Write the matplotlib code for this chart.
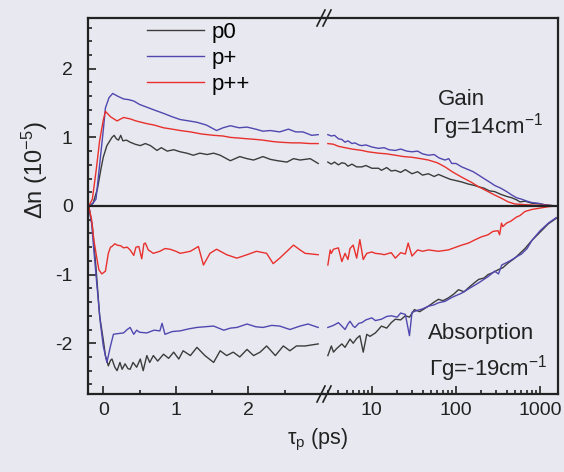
import numpy as np
import matplotlib
matplotlib.use("Agg")
import matplotlib.pyplot as plt
from matplotlib.lines import Line2D
from matplotlib.ticker import MultipleLocator, LogLocator, NullFormatter, FixedLocator, FixedFormatter

plt.rcParams["font.family"] = ["Liberation Sans", "DejaVu Sans"]
plt.rcParams["mathtext.fontset"] = "custom"
plt.rcParams["mathtext.rm"] = "Liberation Sans"
plt.rcParams["mathtext.it"] = "Liberation Sans:italic"
plt.rcParams["axes.unicode_minus"] = False

# ---- pump-probe traces, delay in ps; early part (linear) and late part (log) ----
# p0
p0_gain_t1 = [-0.2, -0.14, -0.08, -0.03, 0.0, 0.05, 0.12, 0.15, 0.18, 0.21, 0.24, 0.27, 0.32, 0.37, 0.44,
              0.51, 0.58, 0.65, 0.74, 0.8, 0.88, 0.97, 1.06, 1.15, 1.24, 1.33, 1.43, 1.52, 1.61, 1.68,
              1.75, 1.88, 1.98, 2.07, 2.2, 2.3, 2.4, 2.53, 2.62, 2.71, 2.85, 2.96]
p0_gain_v1 = [0.0, 0.04, 0.25, 0.55, 0.71, 0.88, 1.0, 1.03, 0.98, 0.96, 1.03, 0.95, 0.96, 0.93, 0.90,
              0.88, 0.91, 0.88, 0.81, 0.85, 0.80, 0.82, 0.79, 0.77, 0.74, 0.77, 0.75, 0.77, 0.74, 0.70,
              0.66, 0.72, 0.69, 0.67, 0.72, 0.68, 0.66, 0.64, 0.69, 0.67, 0.69, 0.62]
p0_gain_t2 = [3.0, 3.3, 3.6, 4.0, 4.4, 4.8, 5.2, 5.8, 6.6, 7.6, 8.5, 10, 12, 13, 15, 17, 19, 22, 25, 30,
              35, 40, 47, 55, 62, 74, 85, 100, 117, 140, 165, 186, 215, 250, 288, 340, 400, 460, 525,
              575, 660, 800, 1000, 1250, 1550]
p0_gain_v2 = [0.64, 0.61, 0.64, 0.60, 0.63, 0.62, 0.58, 0.61, 0.57, 0.57, 0.59, 0.55, 0.55, 0.52, 0.56,
              0.51, 0.52, 0.49, 0.53, 0.47, 0.50, 0.45, 0.47, 0.43, 0.46, 0.42, 0.39, 0.37, 0.35, 0.32,
              0.30, 0.28, 0.26, 0.22, 0.21, 0.17, 0.14, 0.12, 0.09, 0.06, 0.07, 0.04, 0.03, 0.01, 0.0]
p0_abs_t1 = [-0.2, -0.15, -0.1, -0.05, 0.0, 0.03, 0.07, 0.1, 0.12, 0.16, 0.19, 0.23, 0.26, 0.3, 0.34,
             0.37, 0.41, 0.46, 0.51, 0.55, 0.6, 0.64, 0.69, 0.75, 0.83, 0.9, 0.97, 1.04, 1.1, 1.2, 1.29,
             1.4, 1.52, 1.61, 1.7, 1.79, 1.88, 1.98, 2.07, 2.16, 2.25, 2.37, 2.48, 2.57, 2.66, 2.78, 2.96]
p0_abs_v1 = [0.0, -0.3, -0.9, -1.6, -1.95, -2.18, -2.33, -2.25, -2.23, -2.35, -2.40, -2.28, -2.38, -2.30,
             -2.37, -2.38, -2.28, -2.35, -2.23, -2.40, -2.18, -2.28, -2.18, -2.26, -2.16, -2.22, -2.13,
             -2.23, -2.11, -2.18, -2.06, -2.18, -2.28, -2.11, -2.18, -2.13, -2.20, -2.09, -2.18, -2.13,
             -2.04, -2.18, -2.04, -2.11, -2.04, -2.04, -2.01]
p0_abs_t2 = [3.0, 3.3, 3.5, 3.8, 4.4, 4.8, 5.5, 6.0, 6.6, 7.2, 7.9, 8.7, 9.5, 11, 12, 13, 15, 17, 19, 22,
             25, 28, 32, 37, 47, 55, 62, 70, 81, 95, 107, 125, 141, 165, 186, 215, 240, 275, 316, 360,
             417, 500, 575, 660, 800, 1000, 1250, 1550]
p0_abs_v2 = [-2.18, -2.04, -2.13, -2.08, -2.01, -2.06, -1.94, -2.00, -1.93, -1.89, -2.13, -1.87, -1.90,
             -1.85, -1.80, -1.75, -1.78, -1.70, -1.65, -1.66, -1.60, -1.62, -1.51, -1.54, -1.46, -1.40,
             -1.36, -1.38, -1.34, -1.28, -1.22, -1.25, -1.19, -1.12, -1.07, -1.05, -1.00, -0.97, -0.93,
             -0.90, -0.83, -0.76, -0.69, -0.62, -0.50, -0.38, -0.26, -0.18]

# p+
pp_gain_t1 = [-0.2, -0.15, -0.1, -0.05, 0.0, 0.03, 0.08, 0.13, 0.2, 0.28, 0.35, 0.42, 0.5, 0.6, 0.7,
              0.83, 0.95, 1.06, 1.18, 1.29, 1.42, 1.56, 1.65, 1.75, 1.87, 1.98, 2.1, 2.2, 2.3, 2.43,
              2.55, 2.65, 2.75, 2.87, 2.96]
pp_gain_v1 = [0.0, 0.03, 0.1, 0.6, 1.1, 1.43, 1.58, 1.64, 1.60, 1.56, 1.55, 1.53, 1.48, 1.44, 1.40,
              1.35, 1.30, 1.26, 1.24, 1.22, 1.18, 1.10, 1.14, 1.17, 1.14, 1.15, 1.12, 1.09, 1.10, 1.08,
              1.12, 1.08, 1.08, 1.03, 1.04]
pp_gain_t2 = [3.0, 3.3, 3.6, 4.0, 4.4, 4.8, 5.2, 5.8, 6.3, 7.0, 7.6, 8.5, 10, 12, 14, 16, 19, 22, 26,
              30, 35, 40, 47, 55, 63, 74, 82, 89, 100, 117, 140, 160, 186, 215, 250, 288, 340, 400,
              460, 525, 600, 700, 800, 950, 1100, 1300, 1550]
pp_gain_v2 = [1.04, 1.02, 1.03, 0.98, 0.97, 0.93, 0.95, 0.91, 0.92, 0.89, 0.88, 0.89, 0.86, 0.84, 0.85,
              0.82, 0.81, 0.83, 0.80, 0.79, 0.80, 0.76, 0.74, 0.75, 0.70, 0.67, 0.69, 0.62, 0.62, 0.57,
              0.53, 0.50, 0.45, 0.40, 0.35, 0.30, 0.26, 0.21, 0.16, 0.12, 0.10, 0.07, 0.05, 0.04, 0.02,
              0.01, 0.0]
pp_abs_t1 = [-0.2, -0.16, -0.13, -0.09, -0.04, 0.0, 0.05, 0.1, 0.14, 0.2, 0.28, 0.33, 0.37, 0.42, 0.46,
             0.5, 0.6, 0.7, 0.78, 0.81, 0.85, 0.95, 1.06, 1.18, 1.29, 1.4, 1.52, 1.66, 1.75, 1.84, 1.98,
             2.1, 2.2, 2.32, 2.43, 2.57, 2.71, 2.82, 2.96]
pp_abs_v1 = [0.0, -0.25, -0.64, -1.12, -1.70, -2.04, -2.28, -2.04, -1.87, -1.86, -1.85, -1.80, -1.77,
             -1.87, -1.81, -1.84, -1.85, -1.81, -1.82, -1.71, -1.87, -1.83, -1.82, -1.79, -1.77, -1.76,
             -1.75, -1.81, -1.78, -1.77, -1.72, -1.76, -1.77, -1.74, -1.75, -1.80, -1.75, -1.72, -1.77]
pp_abs_t2 = [3.0, 3.5, 4.0, 4.4, 4.8, 5.2, 5.5, 6.0, 6.3, 7.0, 7.6, 8.5, 10, 11, 13, 15, 17, 20, 22, 25,
             28, 30, 35, 40, 47, 55, 62, 74, 90, 117, 140, 186, 240, 288, 320, 350, 437, 525, 600, 700,
             800, 1000, 1250, 1550]
pp_abs_v2 = [-1.77, -1.74, -1.70, -1.75, -1.80, -1.72, -1.68, -1.75, -1.77, -1.71, -1.70, -1.66, -1.63,
             -1.67, -1.65, -1.61, -1.60, -1.62, -1.56, -1.58, -1.89, -1.55, -1.52, -1.50, -1.46, -1.44,
             -1.41, -1.39, -1.33, -1.27, -1.21, -1.12, -1.03, -0.95, -0.99, -0.86, -0.80, -0.74, -0.70,
             -0.62, -0.50, -0.36, -0.25, -0.17]

# p++
ppp_gain_t1 = [-0.2, -0.15, -0.1, -0.05, 0.0, 0.03, 0.1, 0.19, 0.28, 0.37, 0.45, 0.6, 0.7, 0.83, 0.95,
               1.06, 1.2, 1.35, 1.52, 1.65, 1.75, 1.87, 1.98, 2.1, 2.2, 2.33, 2.43, 2.6, 2.71, 2.85, 2.96]
ppp_gain_v1 = [0.0, 0.1, 0.5, 0.95, 1.25, 1.38, 1.30, 1.24, 1.29, 1.27, 1.24, 1.20, 1.18, 1.14, 1.12,
               1.10, 1.08, 1.05, 1.03, 1.02, 1.00, 0.99, 0.98, 0.97, 0.96, 0.94, 0.93, 0.92, 0.92, 0.91, 0.91]
ppp_gain_t2 = [3.0, 3.5, 4.0, 4.8, 5.8, 7.6, 9, 12, 15, 19, 24, 30, 38, 47, 60, 74, 90, 117, 150, 186,
               240, 288, 350, 417, 500, 650, 900, 1200, 1550]
ppp_gain_v2 = [0.91, 0.90, 0.87, 0.85, 0.83, 0.81, 0.79, 0.77, 0.76, 0.74, 0.72, 0.71, 0.69, 0.67, 0.63,
               0.57, 0.50, 0.42, 0.35, 0.28, 0.21, 0.16, 0.11, 0.06, 0.03, 0.02, 0.01, 0.01, 0.0]
ppp_abs_t1 = [-0.2, -0.16, -0.13, -0.09, -0.06, -0.02, 0.03, 0.07, 0.1, 0.12, 0.16, 0.19, 0.24, 0.28,
              0.33, 0.37, 0.42, 0.45, 0.49, 0.53, 0.56, 0.58, 0.62, 0.69, 0.78, 0.85, 0.92, 1.0, 1.06,
              1.2, 1.31, 1.38, 1.47, 1.56, 1.7, 1.84, 1.98, 2.11, 2.25, 2.34, 2.43, 2.53, 2.62, 2.71,
              2.78, 2.96]
ppp_abs_v1 = [0.0, -0.2, -0.49, -0.75, -0.93, -0.99, -0.95, -0.69, -0.60, -0.59, -0.55, -0.57, -0.58,
              -0.61, -0.60, -0.64, -0.72, -0.60, -0.59, -0.77, -0.55, -0.54, -0.64, -0.69, -0.66, -0.62,
              -0.63, -0.66, -0.69, -0.66, -0.59, -0.86, -0.69, -0.63, -0.71, -0.76, -0.71, -0.66, -0.69,
              -0.84, -0.76, -0.66, -0.57, -0.64, -0.69, -0.71]
ppp_abs_t2 = [3.0, 3.2, 3.3, 3.5, 4.0, 4.4, 4.8, 5.2, 5.5, 6.0, 6.6, 7.2, 7.9, 8.7, 10, 11, 13, 14, 17,
              19, 22, 25, 27, 30, 35, 40, 47, 62, 81, 100, 117, 141, 170, 200, 240, 275, 316, 330, 347,
              360, 398, 450, 525, 575, 660, 800, 1000, 1250, 1550]
ppp_abs_v2 = [-0.86, -0.64, -0.69, -0.63, -0.61, -0.81, -0.69, -0.78, -0.62, -0.57, -0.76, -0.49, -0.78,
              -0.69, -0.67, -0.69, -0.70, -0.71, -0.68, -0.76, -0.68, -0.70, -0.54, -0.73, -0.64, -0.66,
              -0.64, -0.66, -0.64, -0.60, -0.57, -0.54, -0.49, -0.45, -0.42, -0.37, -0.36, -0.42, -0.25,
              -0.30, -0.25, -0.22, -0.16, -0.14, -0.08, -0.05, -0.03, -0.01, 0.0]

labels = ["p0", "p+", "p++"]
colors = ["#3c3c3c", "#5048b0", "#e8302c"]
BG = "#e8e8f0"
INK = "#222222"
TICK_FS, TEXT_FS, LABEL_FS = 14, 16, 15.5

W, H = 564, 472
x_l, x_b, x_r = 88, 324, 558     # frame left, axis break, frame right (px)
y_t, y_b = 18, 394               # frame top, bottom (px)

fig = plt.figure(figsize=(W / 100, H / 100), dpi=100, facecolor=BG)
bot, hgt = 1 - y_b / H, (y_b - y_t) / H
ax1 = fig.add_axes([x_l / W, bot, (x_b - x_l) / W, hgt], facecolor=BG)
ax2 = fig.add_axes([x_b / W, bot, (x_r - x_b) / W, hgt], facecolor=BG)

traces = [
    (p0_gain_t1, p0_gain_v1, p0_gain_t2, p0_gain_v2, p0_abs_t1, p0_abs_v1, p0_abs_t2, p0_abs_v2),
    (pp_gain_t1, pp_gain_v1, pp_gain_t2, pp_gain_v2, pp_abs_t1, pp_abs_v1, pp_abs_t2, pp_abs_v2),
    (ppp_gain_t1, ppp_gain_v1, ppp_gain_t2, ppp_gain_v2, ppp_abs_t1, ppp_abs_v1, ppp_abs_t2, ppp_abs_v2),
]
handles = []
for (gt1, gv1, gt2, gv2, at1, av1, at2, av2), lab, c in zip(traces, labels, colors):
    h, = ax1.plot(gt1, gv1, color=c, lw=1.0, label=lab)
    ax1.plot(at1, av1, color=c, lw=1.0)
    ax2.plot(gt2, gv2, color=c, lw=1.0)
    ax2.plot(at2, av2, color=c, lw=1.0)
    handles.append(h)

for ax in (ax1, ax2):
    ax.axhline(0, color=INK, lw=1.6, zorder=3)
    ax.set_ylim(-2.74, 2.74)
    for s in ax.spines.values():
        s.set_color(INK)
        s.set_linewidth(1.6)
    ax.tick_params(which="both", direction="in", colors=INK, labelsize=TICK_FS, width=1.2)
    ax.tick_params(which="major", length=5.5)
    ax.tick_params(which="minor", length=3)

ax1.set_xlim(-0.21, 3.04)
ax1.spines["right"].set_visible(False)
ax1.xaxis.set_major_locator(FixedLocator([0, 1, 2]))
ax1.xaxis.set_minor_locator(FixedLocator([0.5, 1.5, 2.5]))
ax1.yaxis.set_major_locator(MultipleLocator(1))
ax1.yaxis.set_minor_locator(MultipleLocator(0.2))
ax1.tick_params(axis="x", pad=6)
ax1.tick_params(axis="y", pad=11)

ax2.set_xscale("log")
ax2.set_xlim(2.7, 1630)
ax2.spines["left"].set_visible(False)
ax2.tick_params(axis="y", which="both", left=False, labelleft=False)
ax2.xaxis.set_major_locator(FixedLocator([10, 100, 1000]))
ax2.xaxis.set_major_formatter(FixedFormatter(["10", "100", "1000"]))
ax2.xaxis.set_minor_locator(LogLocator(base=10, subs=np.arange(2, 10)))
ax2.xaxis.set_minor_formatter(NullFormatter())
ax2.tick_params(axis="x", pad=6)

ax1.legend(handles=handles, loc="upper left", bbox_to_anchor=(0.25, 0.99), frameon=False,
           fontsize=TEXT_FS, handlelength=2.55, handletextpad=0.37, labelspacing=0.22,
           borderpad=0, borderaxespad=0)

ax2.text(0.485, 0.782, "Gain", transform=ax2.transAxes, fontsize=TEXT_FS, color=INK, va="center")
ax2.text(0.462, 0.71, "Γg=14cm$^{-1}$", transform=ax2.transAxes, fontsize=TEXT_FS, color=INK, va="center")
ax2.text(0.444, 0.162, "Absorption", transform=ax2.transAxes, fontsize=TEXT_FS, color=INK, va="center")
ax2.text(0.45, 0.069, "Γg=-19cm$^{-1}$", transform=ax2.transAxes, fontsize=TEXT_FS, color=INK, va="center")

fig.text(318 / W, 1 - 440 / H, "τ$_\\mathrm{p}$ (ps)", fontsize=LABEL_FS, color=INK, ha="center", va="center")
fig.text(35 / W, 1 - 170 / H, "Δn (10$^{-5}$)", fontsize=17, color=INK, ha="center", va="center",
         rotation=90)

# "//" marks where the delay axis switches from linear to log
for yb in (y_t, y_b):
    for dx in (-3, 3):
        xs = [(x_b + dx - 4) / W, (x_b + dx + 4) / W]
        ys = [1 - (yb + 8) / H, 1 - (yb - 8) / H]
        fig.add_artist(Line2D(xs, ys, color=INK, lw=1.2))

fig.savefig("out.png", dpi=100, facecolor=BG)
